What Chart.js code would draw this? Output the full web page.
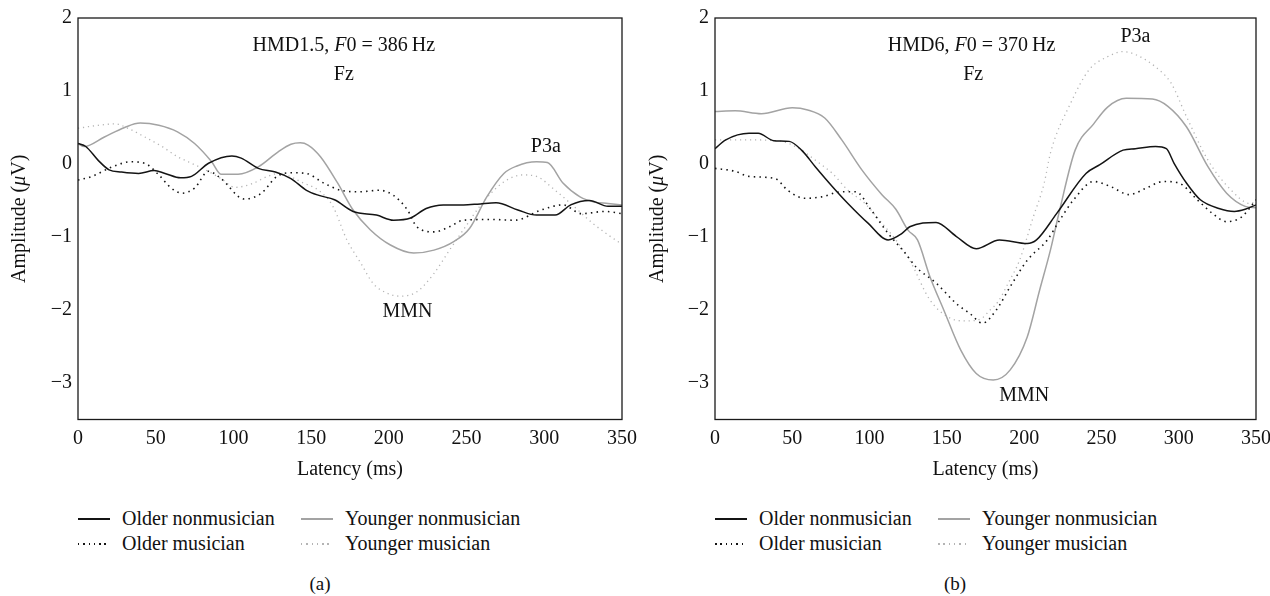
<!DOCTYPE html>
<html><head><meta charset="utf-8">
<script src="https://cdn.jsdelivr.net/npm/chart.js@4.4.1/dist/chart.umd.min.js"></script>
<style>
html,body{margin:0;padding:0;background:#fff;}
#wrap{position:relative;width:1270px;height:596px;overflow:hidden;font-family:"Liberation Serif",serif;color:#111;}
canvas{position:absolute;top:0;}
.leg{position:absolute;font-size:20px;line-height:20px;white-space:nowrap;}
.leg span.s{position:absolute;top:10px;width:32px;height:1.5px;}
.leg span.t{position:absolute;left:44px;top:0;}
.cap{position:absolute;font-size:19px;line-height:22px;transform:translateX(-50%);}
</style></head>
<body><div id="wrap">
<canvas id="ca" width="644" height="484" style="left:0"></canvas>
<canvas id="cb" width="638" height="484" style="left:640px"></canvas>
</div>
<script>
// ---- Data (latency ms / amplitude µV) ----
// Panel (a) HMD1.5
const latA_ON=[0,5,13,20,28,39,49,56,66,73,84,99,105,116,127,137,147,155,165,177,192,203,214,224,235,248,257,269,283,295,307,317,329,341,350];
const ampA_ON=[0.28,0.24,0.05,-0.08,-0.11,-0.13,-0.09,-0.13,-0.19,-0.17,0.01,0.11,0.08,-0.06,-0.11,-0.20,-0.36,-0.43,-0.49,-0.65,-0.70,-0.77,-0.74,-0.61,-0.56,-0.56,-0.55,-0.53,-0.63,-0.70,-0.70,-0.56,-0.50,-0.58,-0.58];
const latA_YN=[0,4,17,30,40,52,64,75,86,92,103,116,129,137,143,148,156,167,177,188,201,216,229,242,252,263,274,282,295,302,312,323,332,341,350];
const ampA_YN=[0.28,0.24,0.37,0.50,0.56,0.53,0.44,0.28,0.03,-0.14,-0.14,-0.04,0.17,0.27,0.29,0.26,0.10,-0.26,-0.63,-0.90,-1.11,-1.22,-1.18,-1.06,-0.88,-0.45,-0.13,-0.03,0.03,0.02,-0.26,-0.45,-0.52,-0.54,-0.56];
const latA_OM=[0,9,22,34,43,52,60,67,75,84,92,107,118,128,137,147,158,169,181,194,203,212,218,229,239,248,266,281,298,312,324,339,350];
const ampA_OM=[-0.22,-0.17,-0.04,0.03,0.01,-0.15,-0.33,-0.40,-0.33,-0.10,-0.20,-0.48,-0.40,-0.17,-0.12,-0.13,-0.26,-0.36,-0.38,-0.36,-0.43,-0.63,-0.86,-0.93,-0.86,-0.77,-0.76,-0.77,-0.63,-0.56,-0.68,-0.65,-0.68];
const latA_YM=[0,13,24,32,43,54,64,71,82,92,101,112,122,129,145,156,164,173,182,190,199,207,218,229,239,248,260,273,286,295,307,319,331,341,350];
const ampA_YM=[0.49,0.53,0.55,0.49,0.37,0.24,0.10,0.03,-0.08,-0.20,-0.32,-0.27,-0.17,-0.13,-0.26,-0.38,-0.58,-1.04,-1.36,-1.64,-1.77,-1.81,-1.75,-1.50,-1.18,-0.90,-0.54,-0.26,-0.15,-0.17,-0.36,-0.58,-0.81,-0.97,-1.10];
// Panel (b) HMD6
const latB_ON=[0,7,22,28,38,48,56,65,76,86,99,112,121,126,143,156,169,184,202,208,221,240,249,264,272,285,292,297,305,314,326,336,343,350];
const ampB_ON=[0.21,0.33,0.42,0.42,0.32,0.31,0.19,-0.04,-0.31,-0.54,-0.81,-1.04,-0.95,-0.86,-0.80,-0.99,-1.16,-1.04,-1.09,-1.04,-0.68,-0.13,-0.01,0.19,0.21,0.24,0.21,0.01,-0.26,-0.49,-0.61,-0.65,-0.62,-0.56];
const latB_YN=[0,13,30,50,60,71,82,95,108,117,125,131,139,148,159,169,180,191,202,210,217,223,233,245,254,266,283,293,305,319,331,343,350];
const ampB_YN=[0.72,0.73,0.69,0.77,0.74,0.63,0.33,-0.08,-0.42,-0.62,-0.91,-1.04,-1.54,-2.0,-2.55,-2.87,-2.96,-2.82,-2.37,-1.73,-1.18,-0.63,0.19,0.55,0.78,0.90,0.89,0.79,0.51,-0.04,-0.40,-0.58,-0.60];
const latB_OM=[0,13,22,39,47,58,69,82,91,101,112,123,130,143,156,165,173,182,191,202,215,223,232,245,256,268,279,290,300,312,322,331,341,350];
const ampB_OM=[-0.06,-0.10,-0.17,-0.20,-0.36,-0.47,-0.45,-0.38,-0.38,-0.63,-0.95,-1.22,-1.41,-1.63,-1.91,-2.05,-2.18,-2.0,-1.68,-1.32,-1.04,-0.77,-0.49,-0.24,-0.31,-0.42,-0.33,-0.24,-0.26,-0.49,-0.68,-0.79,-0.72,-0.49];
const latB_YM=[0,22,43,56,65,76,86,97,108,117,126,139,152,163,172,178,183,190,197,206,213,217,230,242,254,264,273,285,295,305,319,334,346,350];
const ampB_YM=[0.33,0.33,0.31,0.19,0.05,-0.13,-0.36,-0.54,-0.81,-1.04,-1.32,-1.86,-2.11,-2.15,-2.12,-2.0,-1.89,-1.62,-1.32,-0.72,-0.26,0.15,0.83,1.29,1.47,1.54,1.49,1.33,1.11,0.65,0.05,-0.36,-0.54,-0.52];

const seriesNames=['Older nonmusician','Younger nonmusician','Older musician','Younger musician'];
const xTicks=[0,50,100,150,200,250,300,350];
const yTicks=[-3,-2,-1,0,1,2];

const FONT='"Liberation Serif", "Times New Roman", serif';
const FS=20;
const styles={
  ON:{borderColor:'#141414',borderWidth:1.5,borderDash:[]},
  OM:{borderColor:'#141414',borderWidth:1.6,borderDash:[1.5,4.2]},
  YN:{borderColor:'#a3a3a3',borderWidth:1.5,borderDash:[]},
  YM:{borderColor:'#b4b4b4',borderWidth:1.3,borderDash:[1.2,3.8]}
};
function pts(lat,amp){return lat.map((t,i)=>({x:t,y:amp[i]}));}
function fmt(v){return v<0?'\u2212'+Math.abs(v):String(v);}

const overlay={
  id:'overlay',
  afterDraw(chart,args,o){
    const {ctx,chartArea:{left,top,right,bottom},scales:{x,y}}=chart;
    ctx.save();
    ctx.strokeStyle='#1a1a1a';ctx.lineWidth=1.3;
    ctx.strokeRect(left,top,right-left,bottom-top);
    ctx.fillStyle='#111';ctx.textBaseline='middle';
    const f=p=>(p.i?'italic ':'')+FS+'px '+FONT;
    for(const lab of o.labels){
      let w=0;
      for(const p of lab.parts){ctx.font=f(p);w+=ctx.measureText(p.t).width;}
      let px=x.getPixelForValue(lab.x)-w/2, py=y.getPixelForValue(lab.y);
      ctx.textAlign='left';
      for(const p of lab.parts){ctx.font=f(p);ctx.fillText(p.t,px,py);px+=ctx.measureText(p.t).width;}
    }
    const parts=[{t:'Amplitude ('},{t:'\u03bc',i:1},{t:'V)'}];
    ctx.translate(o.yTitleX,(top+bottom)/2);ctx.rotate(-Math.PI/2);
    let w=0;for(const p of parts){ctx.font=f(p);w+=ctx.measureText(p.t).width;}
    let px=-w/2;
    for(const p of parts){ctx.font=f(p);ctx.fillText(p.t,px,0);px+=ctx.measureText(p.t).width;}
    ctx.restore();
  }
};

function makeChart(id,sets,yw,labels,yTitleX){
  const ds=[
    Object.assign({label:seriesNames[0],data:pts(sets.ON[0],sets.ON[1])},styles.ON),
    Object.assign({label:seriesNames[2],data:pts(sets.OM[0],sets.OM[1])},styles.OM),
    Object.assign({label:seriesNames[1],data:pts(sets.YN[0],sets.YN[1])},styles.YN),
    Object.assign({label:seriesNames[3],data:pts(sets.YM[0],sets.YM[1])},styles.YM)
  ];
  return new Chart(document.getElementById(id),{
    type:'line',
    data:{datasets:ds},
    plugins:[overlay],
    options:{
      responsive:false,animation:false,
      layout:{padding:{top:18,right:0,left:0,bottom:0}},
      elements:{point:{radius:0},line:{cubicInterpolationMode:'monotone',fill:false}},
      plugins:{legend:{display:false},tooltip:{enabled:false},overlay:{labels:labels,yTitleX:yTitleX}},
      scales:{
        x:{type:'linear',min:0,max:350,
          afterBuildTicks(s){s.ticks=xTicks.map(v=>({value:v}));},
          ticks:{color:'#111',padding:7,maxRotation:0,font:{family:FONT,size:FS}},
          grid:{display:false,drawTicks:false},border:{display:false},
          title:{display:true,text:'Latency (ms)',color:'#111',font:{family:FONT,size:FS},padding:{top:0,bottom:2}},
          afterFit(s){s.height=64.5;}
        },
        y:{type:'linear',min:-3.5,max:2,
          afterBuildTicks(s){s.ticks=yTicks.map(v=>({value:v}));},
          ticks:{color:'#111',padding:6,callback:v=>fmt(v),font:{family:FONT,size:FS}},
          grid:{display:false,drawTicks:false},border:{display:false},
          afterFit(s){s.width=yw;}
        }
      }
    }
  });
}

makeChart('ca',{ON:[latA_ON,ampA_ON],YN:[latA_YN,ampA_YN],OM:[latA_OM,ampA_OM],YM:[latA_YM,ampA_YM]},78,[
  {x:171,y:1.62,parts:[{t:'HMD1.5, '},{t:'F',i:1},{t:'0 = 386\u2009Hz'}]},
  {x:171,y:1.22,parts:[{t:'Fz'}]},
  {x:301,y:0.24,parts:[{t:'P3a'}]},
  {x:212,y:-2.03,parts:[{t:'MMN'}]}
],20);
makeChart('cb',{ON:[latB_ON,ampB_ON],YN:[latB_YN,ampB_YN],OM:[latB_OM,ampB_OM],YM:[latB_YM,ampB_YM]},75,[
  {x:166,y:1.62,parts:[{t:'HMD6, '},{t:'F',i:1},{t:'0 = 370\u2009Hz'}]},
  {x:167,y:1.22,parts:[{t:'Fz'}]},
  {x:272,y:1.74,parts:[{t:'P3a'}]},
  {x:200,y:-3.17,parts:[{t:'MMN'}]}
],18);

// HTML legend (2x2 grid per panel)
const wrap=document.getElementById('wrap');
function legendItem(x,yc,name,style){
  const d=document.createElement('div');d.className='leg';d.style.left=x+'px';d.style.top=(yc-10)+'px';
  const s=document.createElement('span');s.className='s';
  if(style.borderDash.length){
    s.style.background='repeating-linear-gradient(to right,'+style.borderColor+' 0 1.5px,transparent 1.5px 5.3px)';
  }else{s.style.background=style.borderColor;}
  const t=document.createElement('span');t.className='t';t.textContent=name;
  d.appendChild(s);d.appendChild(t);wrap.appendChild(d);
}
[[78,301],[715,938]].forEach(([c1,c2])=>{
  legendItem(c1,518,seriesNames[0],styles.ON);
  legendItem(c2,518,seriesNames[1],styles.YN);
  legendItem(c1,543,seriesNames[2],styles.OM);
  legendItem(c2,543,seriesNames[3],styles.YM);
});
[['(a)',320],['(b)',955]].forEach(([t,x])=>{
  const c=document.createElement('div');c.className='cap';c.textContent=t;c.style.left=x+'px';c.style.top='573px';wrap.appendChild(c);
});
</script>
</body></html>
